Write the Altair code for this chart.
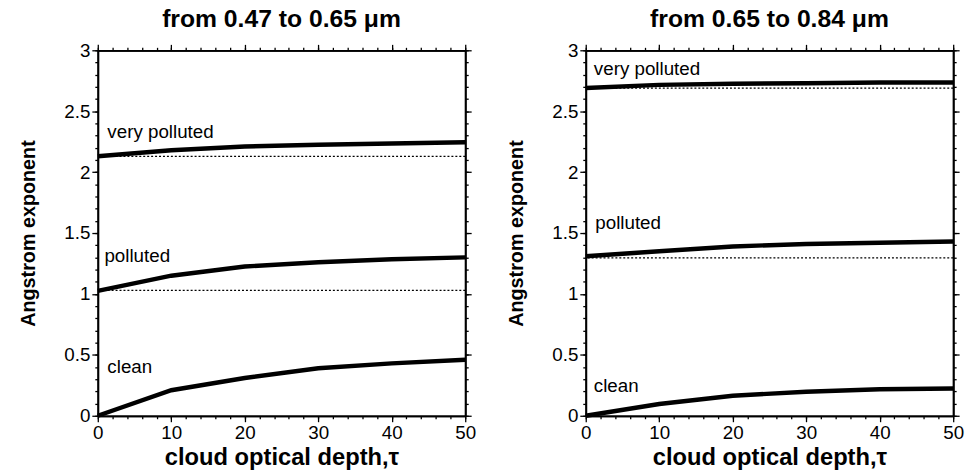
import altair as alt
import pandas as pd

# ---------------- data ----------------
tau = [0, 10, 20, 30, 40, 50]

# left panel: 0.47 -> 0.65 um
left_clean = [0.0, 0.21, 0.31, 0.39, 0.43, 0.46]
left_polluted = [1.025, 1.15, 1.225, 1.26, 1.285, 1.30]
left_very = [2.13, 2.18, 2.21, 2.225, 2.235, 2.245]
left_base = [1.03, 2.13]

# right panel: 0.65 -> 0.84 um
right_clean = [0.0, 0.097, 0.165, 0.197, 0.218, 0.224]
right_polluted = [1.31, 1.35, 1.39, 1.41, 1.42, 1.43]
right_very = [2.69, 2.716, 2.725, 2.73, 2.735, 2.735]
right_base = [1.296, 2.69]

label_names = ["very polluted", "polluted", "clean"]
left_label_x = [1.3, 0.9, 1.3]
left_label_y = [2.33, 1.31, 0.40]
right_label_x = [1.1, 1.3, 1.1]
right_label_y = [2.85, 1.58, 0.24]

x_major = [0, 10, 20, 30, 40, 50]
x_minor = list(range(0, 52, 2))
y_major = [0, 0.5, 1, 1.5, 2, 2.5, 3]
y_minor = [i / 10 for i in range(0, 31)]

FONT = "Liberation Sans"
W, H = 372, 370


def panel(title, clean, polluted, very, base, lx, ly):
    rows = []
    for name, vals in [("clean", clean), ("polluted", polluted), ("very polluted", very)]:
        for t, v in zip(tau, vals):
            rows.append({"tau": t, "alpha": v, "case": name})
    df = pd.DataFrame(rows)
    base_df = pd.DataFrame({"alpha": base})
    lab_df = pd.DataFrame({"tau": lx, "alpha": ly, "name": label_names})

    xs = alt.Scale(domain=[0, 50], nice=False, zero=False)
    ys = alt.Scale(domain=[0, 3], nice=False, zero=False)

    def ax(orient, values, size, labels=False, title=None, fmt=None, tfs=20, tpad=4):
        kw = dict(orient=orient, values=values, tickSize=size, labels=labels,
                  grid=False, domainColor="black", domainWidth=1.8,
                  tickColor="black", tickWidth=1.3, labelFont=FONT,
                  labelFontSize=19, labelColor="black", labelPadding=2,
                  titleFont=FONT, titleFontSize=tfs, titleFontWeight="bold",
                  titleColor="black", titlePadding=tpad,
                  labelFlush=False, labelOverlap=False)
        kw["title"] = title
        if fmt is not None:
            kw["format"] = fmt
        return alt.Axis(**kw)

    lines = alt.Chart(df).mark_line(color="black", strokeWidth=4.5, strokeCap="butt").encode(
        x=alt.X("tau:Q", scale=xs,
                axis=ax("bottom", x_major, 6, True, "cloud optical depth,τ", "d", 24, 3)),
        y=alt.Y("alpha:Q", scale=ys,
                axis=ax("left", y_major, 6, True, "Angstrom exponent", "~g", 20, 26)),
        detail="case:N",
    )

    rules = alt.Chart(base_df).mark_rule(color="black", strokeWidth=1.2, strokeDash=[2, 2]).encode(
        y=alt.Y("alpha:Q", scale=ys, axis=None),
    )

    labels = alt.Chart(lab_df).mark_text(align="left", baseline="middle", font=FONT,
                                         fontSize=19, color="black").encode(
        x=alt.X("tau:Q", scale=xs, axis=ax("top", x_major, 6)),
        y=alt.Y("alpha:Q", scale=ys, axis=ax("right", y_major, 6)),
        text="name:N",
    )

    minor1 = alt.Chart(df).mark_point(opacity=0).encode(
        x=alt.X("tau:Q", scale=xs, axis=ax("bottom", x_minor, 3)),
        y=alt.Y("alpha:Q", scale=ys, axis=ax("left", y_minor, 3)),
    )
    minor2 = alt.Chart(df).mark_point(opacity=0).encode(
        x=alt.X("tau:Q", scale=xs, axis=ax("top", x_minor, 3)),
        y=alt.Y("alpha:Q", scale=ys, axis=ax("right", y_minor, 3)),
    )

    return alt.layer(lines, rules, labels, minor1, minor2).resolve_axis(
        x="independent", y="independent"
    ).properties(
        width=W, height=H,
        title=alt.TitleParams(title, font=FONT, fontSize=25, fontWeight="bold",
                              color="black", anchor="middle", frame="group", offset=10),
    )


left = panel("from 0.47 to 0.65 μm", left_clean, left_polluted, left_very, left_base,
             left_label_x, left_label_y)
right = panel("from 0.65 to 0.84 μm", right_clean, right_polluted, right_very, right_base,
              right_label_x, right_label_y)

chart = alt.hconcat(left, right, spacing=30).properties(
    padding={"left": 18, "top": 4, "right": 5, "bottom": 0},
    background="white",
).configure_view(stroke=None)

chart.save("out.html", embed_options={"renderer": "svg", "actions": False})
